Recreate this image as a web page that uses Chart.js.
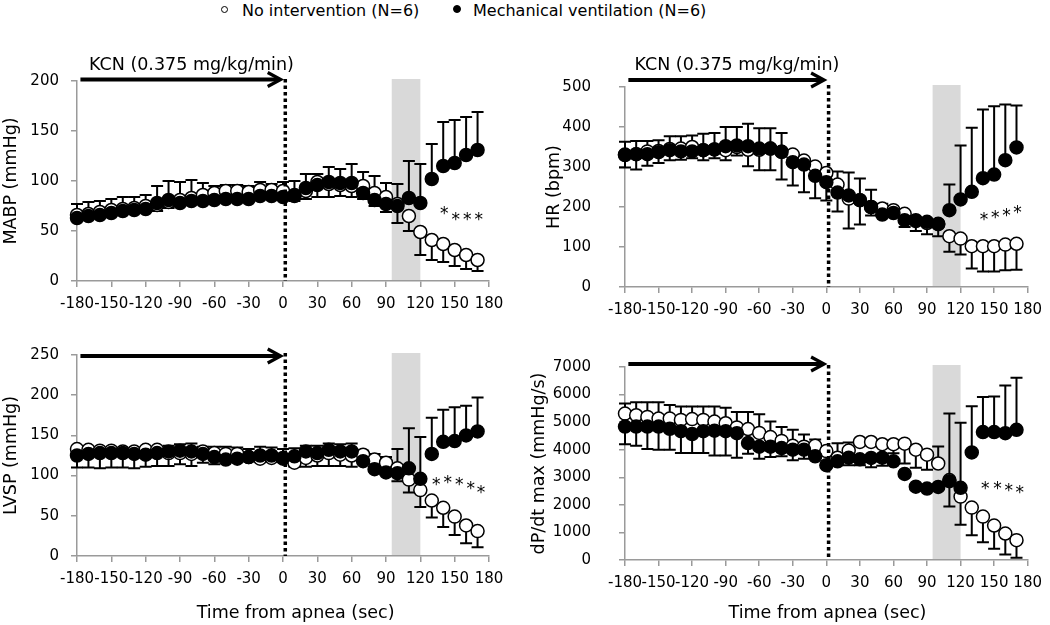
<!DOCTYPE html>
<html><head><meta charset="utf-8">
<script src="https://cdn.jsdelivr.net/npm/chart.js@4.4.1/dist/chart.umd.min.js"></script>
<style>
html,body{margin:0;padding:0;background:#fff;width:1050px;height:625px;overflow:hidden;font-family:"DejaVu Sans",sans-serif;}
canvas{position:absolute;}
.lg{position:absolute;top:2.5px;font-size:16px;line-height:16px;color:#000;white-space:nowrap;}
.mk{position:absolute;border-radius:50%;box-sizing:border-box;border:1.5px solid #000;}
</style></head><body>
<div class="mk" style="left:220.5px;top:5.5px;width:7px;height:7px;background:#fff"></div>
<span class="lg" style="left:242px">No intervention (N=6)</span>
<div class="mk" style="left:453px;top:5px;width:8px;height:8px;background:#000"></div>
<span class="lg" style="left:473px">Mechanical ventilation (N=6)</span>
<canvas id="c1" width="525" height="300" style="left:0;top:30px"></canvas>
<canvas id="c2" width="525" height="300" style="left:525px;top:30px"></canvas>
<canvas id="c3" width="525" height="295" style="left:0;top:330px"></canvas>
<canvas id="c4" width="525" height="295" style="left:525px;top:330px"></canvas>
<script>
// ---------- DATA ----------
const times = [-180,-170,-160,-150,-140,-130,-120,-110,-100,-90,-80,-70,-60,-50,-40,-30,-20,-10,0,10,20,30,40,50,60,70,80,90,100,110,120,130,140,150,160,170];
const xTickValues = [-180,-150,-120,-90,-60,-30,0,30,60,90,120,150,180];
const seriesNames = ['No intervention (N=6)', 'Mechanical ventilation (N=6)'];
const xTitle = 'Time from apnea (sec)';
const kcnLabel = 'KCN (0.375 mg/kg/min)';
const kcnRange = [-177, -2];
const kcnLabelX = -80;
const apneaX = 2;
const shadeRange = [95, 120];

// MABP (mmHg)
const mabpTicks = [0,50,100,150,200];
const mabpOpen = [66,67,69,71,72,73,75,76,79,81,83,86,88,90,90,89,91,91,90,85,90,99,97,96,95,95,88,84,77,65,49,41,37,31,26,21];
const mabpOpenErr = [11,12,11,11,12,11,11,-6,-6,18,18,12,7,6,6,6,8,6,9,-5,-8,8,-13,-11,-11,14,17,14,20,-15,-23,-20,-18,-16,-14,-11];
const mabpFilled = [63,65,66,68,70,71,72,78,81,78,80,80,81,82,82,82,85,85,84,86,93,96,99,98,98,88,81,77,75,83,78,102,115,118,126,131];
const mabpFilledErr = [0,0,0,0,0,0,0,17,19,0,0,0,0,0,0,0,0,0,0,14,14,-12,15,14,19,-6,-6,-8,-17,37,39,35,44,43,38,38];
const mabpSigX = [141,151,161,171];
const mabpSigY = [72,66,66,66];

// HR (bpm)
const hrTicks = [0,100,200,300,400,500];
const hrOpen = [330,332,339,340,345,346,350,342,344,342,350,343,343,346,338,331,316,301,285,256,221,217,200,196,192,183,165,160,157,127,121,102,102,102,106,108];
const hrOpenErr = [-31,-38,-36,-30,-28,-28,-28,-25,-22,-25,-21,-41,-51,-54,-69,0,0,0,0,33,-75,-61,-21,12,0,0,0,0,0,-39,-40,-56,-63,-63,-64,-65];
const hrFilled = [331,332,332,337,342,339,339,342,344,352,354,352,346,346,338,312,306,278,262,236,229,217,200,181,185,167,167,163,158,192,219,238,272,281,317,349];
const hrFilledErr = [32,33,33,30,35,38,40,41,41,48,46,56,51,51,47,-58,-69,-56,-46,-47,57,54,43,0,0,-17,-27,-31,-31,64,135,160,172,171,139,105];
const hrSigX = [141,151,161,171];
const hrSigY = [178,184,190,197];

// LVSP (mmHg)
const lvspTicks = [0,50,100,150,200,250];
const lvspOpen = [133,132,131,131,130,130,132,132,128,128,127,130,128,127,127,123,121,122,121,116,122,125,128,126,125,126,120,116,109,95,82,69,60,49,38,31];
const lvspOpenErr = [0,0,0,0,0,0,0,0,9,11,13,6,8,9,8,10,0,0,0,-5,-11,-13,-16,-14,-14,5,7,7,24,-16,-21,-21,-24,-23,-22,-20];
const lvspFilled = [125,127,128,128,128,127,126,128,130,131,130,127,123,120,121,123,125,125,122,124,130,128,132,130,130,118,108,104,103,109,96,127,142,143,150,155];
const lvspFilledErr = [-15,-17,-19,-18,-18,-18,-15,-16,-18,-17,-18,-11,-9,0,0,0,11,10,11,10,7,9,8,9,10,0,0,0,-10,50,52,45,40,42,37,42];
const lvspSigX = [134,144,154,164,173];
const lvspSigY = [94,97,94,89,84];

// dP/dt max (mmHg/s)
const dpTicks = [0,1000,2000,3000,4000,5000,6000,7000];
const dpOpen = [5310,5250,5190,5130,5130,5080,5110,5080,5020,4960,4810,4750,4610,4460,4320,4140,4110,4140,3950,3710,3970,4280,4280,4200,4200,4220,4000,3820,3500,2900,2300,1900,1575,1250,960,720];
const dpOpenErr = [370,470,530,590,490,490,455,485,545,560,560,620,675,560,500,585,440,235,0,520,290,0,0,0,-330,-720,-650,-550,620,-960,-1020,-1000,-935,-840,-760,-640];
const dpFilled = [4840,4840,4840,4840,4760,4670,4570,4670,4690,4670,4600,4240,4110,4110,4060,4000,4000,3760,3440,3580,3710,3650,3700,3710,3580,3120,2660,2590,2650,2860,2620,3900,4640,4640,4600,4720];
const dpFilledErr = [-640,-700,-815,-840,-760,-785,-685,-785,-900,-880,-890,-390,-435,-375,-300,-385,-325,0,0,0,-270,-210,-340,-290,0,0,0,0,0,2450,2360,1680,1275,1290,1730,1890];
const dpSigX = [142,153,163,173];
const dpSigY = [2750,2730,2655,2580];

// ---------- RENDER ----------
const FONT = '"DejaVu Sans", sans-serif';
Chart.defaults.font.family = FONT;
Chart.defaults.color = '#000';
const AXIS = '#9a9a9a';

function panelPlugin(cfg) {
  return {
    id: 'panel' + cfg.id,
    beforeDatasetsDraw(chart) {
      const {ctx, chartArea: a, scales: {x, y}} = chart;
      ctx.save();
      const s0 = x.getPixelForValue(shadeRange[0]), s1 = x.getPixelForValue(shadeRange[1]);
      ctx.fillStyle = '#d9d9d9';
      ctx.fillRect(s0, a.top - 2, s1 - s0, a.bottom - a.top + 1);
      ctx.strokeStyle = '#000';
      ctx.lineWidth = 2;
      chart.data.datasets.forEach(ds => {
        ds.data.forEach((pt, i) => {
          const e = ds.errBars[i];
          if (!e) return;
          const px = x.getPixelForValue(pt.x);
          const p0 = y.getPixelForValue(pt.y), p1 = y.getPixelForValue(pt.y + e);
          ctx.beginPath();
          ctx.moveTo(px, p0); ctx.lineTo(px, p1);
          ctx.moveTo(px - 6, p1); ctx.lineTo(px + 6, p1);
          ctx.stroke();
        });
      });
      ctx.restore();
    },
    afterDatasetsDraw(chart) {
      const {ctx, chartArea: a, scales: {x, y}} = chart;
      ctx.save();
      ctx.strokeStyle = '#000';
      ctx.fillStyle = '#000';
      // apnea dotted line
      const ax = x.getPixelForValue(apneaX);
      ctx.lineWidth = 3.5;
      ctx.setLineDash([3.5, 3]);
      ctx.beginPath(); ctx.moveTo(ax, a.top - 2); ctx.lineTo(ax, a.bottom); ctx.stroke();
      ctx.setLineDash([]);
      // KCN arrow
      const ay = a.top - cfg.arrowLift;
      const x0 = x.getPixelForValue(kcnRange[0]), x1 = x.getPixelForValue(kcnRange[1]);
      ctx.lineWidth = 4;
      ctx.beginPath(); ctx.moveTo(x0, ay); ctx.lineTo(x1 - 2, ay); ctx.stroke();
      ctx.lineWidth = 3.2;
      ctx.lineJoin = 'miter';
      ctx.beginPath(); ctx.moveTo(x1 - 13, ay - 7); ctx.lineTo(x1, ay); ctx.lineTo(x1 - 13, ay + 7); ctx.stroke();
      if (cfg.showKcn) {
        ctx.font = '17.5px ' + FONT;
        ctx.textAlign = 'center'; ctx.textBaseline = 'alphabetic';
        ctx.fillText(kcnLabel, x.getPixelForValue(kcnLabelX), ay - 10);
      }
      // significance asterisks
      ctx.font = '17px ' + FONT;
      ctx.textAlign = 'center'; ctx.textBaseline = 'alphabetic';
      cfg.sigX.forEach((sx, i) => {
        ctx.fillText('*', x.getPixelForValue(sx), y.getPixelForValue(cfg.sigY[i]) + 0.56 * 17);
      });
      // x-axis title
      if (cfg.xTitleGap) {
        ctx.font = '17.5px ' + FONT;
        ctx.textBaseline = 'middle';
        ctx.fillText(xTitle, x.getPixelForValue(cfg.xTitleAt), a.bottom + cfg.xTitleGap);
      }
      ctx.restore();
    }
  };
}

function makePanel(cfg) {
  const canvas = document.getElementById(cfg.id);
  const pts = vals => times.map((t, i) => ({x: t, y: vals[i]}));
  new Chart(canvas, {
    type: 'scatter',
    data: {
      datasets: [
        {label: seriesNames[1], data: pts(cfg.filled), errBars: cfg.filledErr, order: 0,
         pointRadius: 6.5, pointHoverRadius: 6.5, pointBorderWidth: 1.5,
         pointBackgroundColor: '#000', pointBorderColor: '#000', clip: false},
        {label: seriesNames[0], data: pts(cfg.open), errBars: cfg.openErr, order: 1,
         pointRadius: 6.5, pointHoverRadius: 6.5, pointBorderWidth: 1.5,
         pointBackgroundColor: '#fff', pointBorderColor: '#000', clip: false}
      ]
    },
    options: {
      responsive: false, animation: false, devicePixelRatio: 1, events: [],
      layout: {padding: {top: cfg.padTop, right: cfg.padRight, left: 0, bottom: 0}},
      plugins: {legend: {display: false}, tooltip: {enabled: false}},
      scales: {
        x: {
          type: 'linear', min: -180, max: 180,
          afterBuildTicks: s => { s.ticks = xTickValues.map(v => ({value: v})); },
          afterFit: s => { s.height = cfg.xAxisH; },
          ticks: {autoSkip: false, maxRotation: 0, minRotation: 0, padding: 8,
                  font: {size: 15}, color: '#000', callback: v => String(v)},
          grid: {drawOnChartArea: false, drawTicks: true, tickLength: 6, color: AXIS, lineWidth: 1.5},
          border: {display: true, color: AXIS, width: 1.5}
        },
        y: {
          type: 'linear', min: 0, max: cfg.yTicks[cfg.yTicks.length - 1],
          afterBuildTicks: s => { s.ticks = cfg.yTicks.map(v => ({value: v})); },
          afterFit: s => { s.width = cfg.yAxisW; },
          ticks: {padding: cfg.tickPadY, font: {size: 15}, color: '#000', callback: v => String(v)},
          grid: {drawOnChartArea: false, drawTicks: true, tickLength: 6, color: AXIS, lineWidth: 1.5},
          border: {display: true, color: AXIS, width: 1.5},
          title: {display: true, text: cfg.yTitle, font: {size: 17.5}, color: '#000',
                  padding: {top: cfg.titlePad, bottom: 0}}
        }
      }
    },
    plugins: [panelPlugin(cfg)]
  });
}

makePanel({id: 'c1', yTitle: 'MABP (mmHg)', yTicks: mabpTicks, open: mabpOpen, openErr: mabpOpenErr,
  filled: mabpFilled, filledErr: mabpFilledErr, sigX: mabpSigX, sigY: mabpSigY,
  padTop: 51, padRight: 36, yAxisW: 77, xAxisH: 49, tickPadY: 12, titlePad: 0.5, arrowLift: 1.5, showKcn: true});
makePanel({id: 'c2', yTitle: 'HR (bpm)', yTicks: hrTicks, open: hrOpen, openErr: hrOpenErr,
  filled: hrFilled, filledErr: hrFilledErr, sigX: hrSigX, sigY: hrSigY,
  padTop: 57, padRight: 21, yAxisW: 100, xAxisH: 43, tickPadY: 28, titlePad: 18.5, arrowLift: 7, showKcn: true});
makePanel({id: 'c3', yTitle: 'LVSP (mmHg)', yTicks: lvspTicks, open: lvspOpen, openErr: lvspOpenErr,
  filled: lvspFilled, filledErr: lvspFilledErr, sigX: lvspSigX, sigY: lvspSigY,
  padTop: 25, padRight: 36, yAxisW: 77, xAxisH: 69, tickPadY: 12, titlePad: 0.5, arrowLift: -1, showKcn: false,
  xTitleGap: 57, xTitleAt: 11});
makePanel({id: 'c4', yTitle: 'dP/dt max (mmHg/s)', yTicks: dpTicks, open: dpOpen, openErr: dpOpenErr,
  filled: dpFilled, filledErr: dpFilledErr, sigX: dpSigX, sigY: dpSigY,
  padTop: 30, padRight: 22, yAxisW: 100, xAxisH: 65, tickPadY: 28, titlePad: 4, arrowLift: 3, showKcn: false,
  xTitleGap: 53, xTitleAt: 1});
</script>
</body></html>
